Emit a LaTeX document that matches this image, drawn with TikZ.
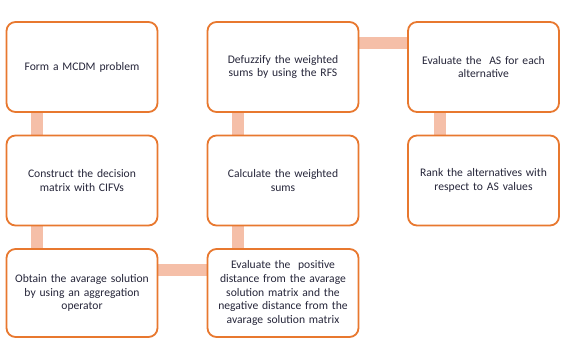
\documentclass[tikz,border=0pt]{standalone}
\usepackage{fontspec}
\setmainfont{Carlito}
\usetikzlibrary{backgrounds,calc}
\definecolor{boxline}{HTML}{E8782F}
\definecolor{linkbar}{HTML}{F5BFA8}
\definecolor{boxtext}{HTML}{26263A}
\begin{document}
\begin{tikzpicture}[x=1pt,y=-1pt,
  stepbox/.style={draw=boxline, line width=1.8pt, rounded corners=9pt, fill=white,
    minimum width=151pt, minimum height=90pt, align=center, text width=146pt,
    font=\fontsize{11.6}{13.6}\selectfont, text=boxtext, inner sep=0pt},
  link/.style={draw=linkbar, line width=12pt}]
\useasboundingbox (0,0) rectangle (568,339);
% first column
\node[stepbox] (form)   at (82,67)   {Form a MCDM problem};
\node[stepbox] (matrix) at (82,180.5) {Construct the decision\\matrix with CIFVs};
\node[stepbox, minimum height=88pt] (avg) at (82,293) {Obtain the avarage solution\\by using an aggregation\\operator};
% second column
\node[stepbox] (defuzz) at (283,67)  {Defuzzify the weighted\\sums by using the RFS};
\node[stepbox] (wsum)   at (283,180.5) {Calculate the weighted\\sums};
\node[stepbox, minimum height=88pt] (dist) at (283,293) {Evaluate the \ positive\\distance from the avarage\\solution matrix and the\\negative distance from the\\avarage solution matrix};
% third column
\node[stepbox] (evalas) at (483.5,67)  {Evaluate the \ AS for each\\alternative};
\node[stepbox] (rank)   at (483.5,180.5) {Rank the alternatives with\\respect to AS values};
% connecting bars
\begin{scope}[on background layer]
  \draw[link] ([xshift=-45pt]form.south) -- ([xshift=-45pt]matrix.north);
  \draw[link] ([xshift=-45pt]matrix.south) -- ([xshift=-45pt]avg.north);
  \draw[link] ([yshift=23pt]avg.east) -- ([yshift=23pt]dist.west);
  \draw[link] ([xshift=-45pt]dist.north) -- ([xshift=-45pt]wsum.south);
  \draw[link] ([xshift=-45pt]wsum.north) -- ([xshift=-45pt]defuzz.south);
  \draw[link] ([yshift=23.5pt]defuzz.east) -- ([yshift=23.5pt]evalas.west);
  \draw[link] ([xshift=-44pt]evalas.south) -- ([xshift=-44pt]rank.north);
\end{scope}
\end{tikzpicture}
\end{document}
